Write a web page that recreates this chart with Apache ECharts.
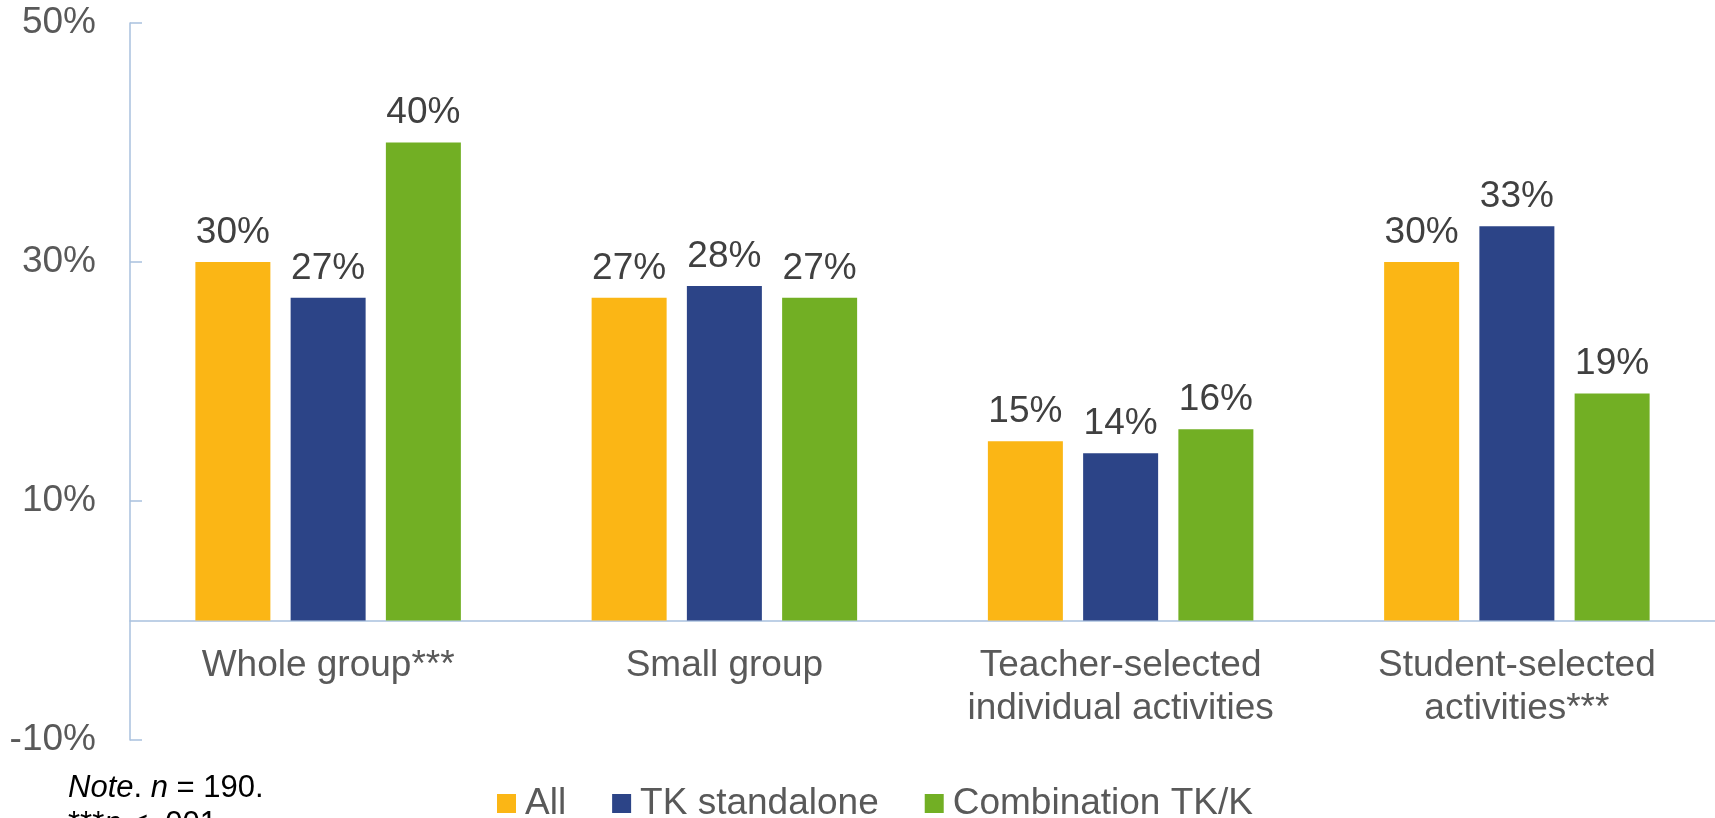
<!DOCTYPE html>
<html>
<head>
<meta charset="utf-8">
<script src="https://cdn.jsdelivr.net/npm/echarts@6/dist/echarts.min.js"></script>
<style>
html,body{margin:0;padding:0;background:#fff;}
#chart{width:1715px;height:818px;}
</style>
</head>
<body>
<div id="chart"></div>
<script>
const categories = ['Whole group***', 'Small group', 'Teacher-selected\nindividual activities', 'Student-selected\nactivities***'];
const seriesNames = ['All', 'TK standalone', 'Combination TK/K'];
const allValues = [30, 27, 15, 30];
const tkStandaloneValues = [27, 28, 14, 33];
const combinationValues = [40, 27, 16, 19];
const seriesColors = ['#FBB615', '#2C4487', '#72AF24'];
const yMin = -10, yMax = 50, yInterval = 20;

const FONT = '"Liberation Sans", Arial, sans-serif';
const chart = echarts.init(document.getElementById('chart'), null, {renderer: 'canvas'});

function barSeries(name, data, color) {
  return {
    name: name,
    type: 'bar',
    data: data,
    barWidth: 75,
    barGap: '27%',
    itemStyle: {color: color},
    label: {
      show: true,
      position: 'top',
      distance: 11,
      formatter: '{c}%',
      color: '#404040',
      fontSize: 37,
      fontFamily: FONT
    }
  };
}

chart.setOption({
  backgroundColor: '#ffffff',
  animation: false,
  grid: {left: 130, right: 0, top: 23, bottom: 78, containLabel: false, outerBoundsMode: 'none'},
  legend: {
    data: seriesNames,
    left: 497,
    top: 785,
    padding: 0,
    itemWidth: 19,
    itemHeight: 19,
    itemGap: 46,
    icon: 'rect',
    textStyle: {color: '#595959', fontSize: 37, fontFamily: FONT, padding: [0, 0, 0, 4]}
  },
  xAxis: {
    type: 'category',
    data: categories,
    axisLine: {show: true, onZero: true, lineStyle: {color: '#A9C1DE', width: 1.5}},
    axisTick: {show: false},
    axisLabel: {
      color: '#595959',
      fontSize: 37,
      fontFamily: FONT,
      margin: -96,
      lineHeight: 43,
      interval: 0
    },
    splitLine: {show: false}
  },
  yAxis: {
    type: 'value',
    min: yMin,
    max: yMax,
    interval: yInterval,
    axisLine: {show: true, lineStyle: {color: '#A9C1DE', width: 1.5}},
    axisTick: {show: true, inside: true, length: 12, lineStyle: {color: '#A9C1DE', width: 1.5}},
    axisLabel: {
      color: '#595959',
      fontSize: 37,
      fontFamily: FONT,
      margin: 34,
      padding: [9, 0, 0, 0],
      formatter: '{value}%'
    },
    splitLine: {show: false}
  },
  series: [
    barSeries(seriesNames[0], allValues, seriesColors[0]),
    barSeries(seriesNames[1], tkStandaloneValues, seriesColors[1]),
    barSeries(seriesNames[2], combinationValues, seriesColors[2])
  ],
  graphic: [{
    type: 'text',
    left: 68,
    top: 770,
    style: {
      text: '{i|Note}. {i|n} = 190.\n***{i|p} < .001.',
      fill: '#000000',
      fontSize: 31,
      fontFamily: FONT,
      lineHeight: 36,
      rich: {
        i: {fontStyle: 'italic', fontSize: 31, fontFamily: FONT, fill: '#000000', lineHeight: 36}
      }
    }
  }]
});
</script>
</body>
</html>
